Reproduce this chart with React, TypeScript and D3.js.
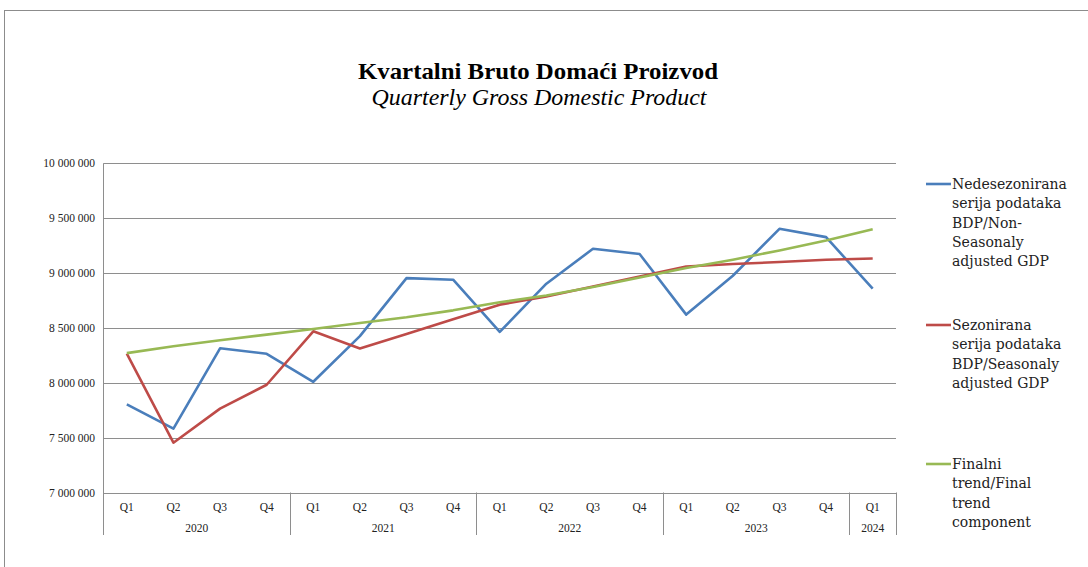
import { useEffect, useRef } from 'react';
import * as d3 from 'd3';

// ─── Data ──────────────────────────────────────────────────────────────────
const quarters = ['Q1', 'Q2', 'Q3', 'Q4', 'Q1', 'Q2', 'Q3', 'Q4', 'Q1', 'Q2', 'Q3', 'Q4', 'Q1', 'Q2', 'Q3', 'Q4', 'Q1'];
const years = ['2020', '2021', '2022', '2023', '2024'];
const quartersPerYear = [4, 4, 4, 4, 1];

const nonSeasonal = [7803000, 7582000, 8314000, 8264000, 8009000, 8425000, 8954000, 8939000, 8464000, 8903000, 9221000, 9173000, 8621000, 8975000, 9403000, 9327000, 8857000];
const seasonal = [8266000, 7454000, 7764000, 7982000, 8469000, 8312000, 8445000, 8578000, 8712000, 8786000, 8877000, 8969000, 9060000, 9082000, 9100000, 9121000, 9133000];
const trend = [8270000, 8333000, 8387000, 8439000, 8490000, 8545000, 8597000, 8660000, 8733000, 8796000, 8872000, 8960000, 9045000, 9121000, 9206000, 9297000, 9400000];

const yTicks = [7000000, 7500000, 8000000, 8500000, 9000000, 9500000, 10000000];

const legendItems = [
  { color: '#4a7ebb', lines: ['Nedesezonirana', 'serija podataka', 'BDP/Non-', 'Seasonaly', 'adjusted GDP'], values: nonSeasonal },
  { color: '#be4b48', lines: ['Sezonirana', 'serija podataka', 'BDP/Seasonaly', 'adjusted GDP'], values: seasonal },
  { color: '#98b954', lines: ['Finalni', 'trend/Final', 'trend', 'component'], values: trend },
];

export default function App() {
  const svgRef = useRef<SVGSVGElement | null>(null);

  useEffect(() => {
    if (!svgRef.current) return;
    const W = 1088, H = 567;
    const m = { left: 103.5, right: 896, top: 163.3, bottom: 492.5 };

    const svg = d3.select(svgRef.current);
    svg.selectAll('*').remove();
    svg.attr('width', W).attr('height', H);

    // marco exterior
    svg.append('rect')
      .attr('x', 4.5).attr('y', 10.5)
      .attr('width', 1100).attr('height', 600)
      .attr('fill', '#fff')
      .attr('stroke', '#8c8c8c')
      .attr('stroke-width', 1);

    // ── Títulos ──────────────────────────────────────────────────────────────
    svg.append('text')
      .attr('x', 538).attr('y', 79)
      .attr('text-anchor', 'middle')
      .attr('font-family', '"Liberation Serif", serif')
      .attr('font-weight', 'bold')
      .attr('font-size', 24)
      .attr('textLength', 360)
      .attr('lengthAdjust', 'spacingAndGlyphs')
      .text('Kvartalni Bruto Domaći Proizvod');

    svg.append('text')
      .attr('x', 539).attr('y', 105)
      .attr('text-anchor', 'middle')
      .attr('font-family', '"Liberation Serif", serif')
      .attr('font-style', 'italic')
      .attr('font-size', 23)
      .attr('textLength', 335)
      .attr('lengthAdjust', 'spacingAndGlyphs')
      .text('Quarterly Gross Domestic Product');

    // ── Escalas ──────────────────────────────────────────────────────────────
    const x = d3.scaleBand<number>()
      .domain(d3.range(quarters.length))
      .range([m.left, m.right]);
    const xc = (i: number) => (x(i) ?? 0) + x.bandwidth() / 2;

    const y = d3.scaleLinear()
      .domain([7000000, 10000000])
      .range([m.bottom, m.top]);

    const fmt = (v: number) => d3.format(',')(v).replace(/,/g, ' ');

    // ── Rejilla + eje Y ─────────────────────────────────────────────────────
    const g = svg.append('g');
    g.selectAll('line.grid')
      .data(yTicks)
      .join('line')
      .attr('x1', m.left).attr('x2', m.right)
      .attr('y1', d => Math.round(y(d)) + 0.5)
      .attr('y2', d => Math.round(y(d)) + 0.5)
      .attr('stroke', '#8e8e8e')
      .attr('stroke-width', 1);

    g.selectAll('text.ytick')
      .data(yTicks)
      .join('text')
      .attr('x', 95)
      .attr('y', d => y(d) + 4)
      .attr('text-anchor', 'end')
      .attr('font-family', '"Liberation Serif", serif')
      .attr('font-size', 11.5)
      .attr('fill', '#222')
      .text(d => fmt(d));

    // eje vertical
    g.append('line')
      .attr('x1', m.left).attr('x2', m.left)
      .attr('y1', m.top).attr('y2', 535)
      .attr('stroke', '#8e8e8e');

    // ── Eje X categorías (trimestre / año) ─────────────────────────────────
    g.selectAll('text.q')
      .data(quarters)
      .join('text')
      .attr('x', (_, i) => xc(i))
      .attr('y', 511)
      .attr('text-anchor', 'middle')
      .attr('font-family', '"Liberation Serif", serif')
      .attr('font-size', 11.5)
      .attr('fill', '#222')
      .text(d => d);

    let start = 0;
    const bounds: number[] = [];
    years.forEach((yr, k) => {
      const n = quartersPerYear[k];
      const x0 = x(start) ?? 0;
      const x1 = (x(start + n - 1) ?? 0) + x.bandwidth();
      g.append('text')
        .attr('x', (x0 + x1) / 2)
        .attr('y', 532)
        .attr('text-anchor', 'middle')
        .attr('font-family', '"Liberation Serif", serif')
        .attr('font-size', 11.5)
        .attr('fill', '#222')
        .text(yr);
      bounds.push(x1);
      start += n;
    });

    g.selectAll('line.sep')
      .data(bounds)
      .join('line')
      .attr('x1', d => Math.round(d) + 0.5).attr('x2', d => Math.round(d) + 0.5)
      .attr('y1', m.bottom).attr('y2', 535)
      .attr('stroke', '#8e8e8e');

    // ── Series ──────────────────────────────────────────────────────────────
    const line = d3.line<number>()
      .x((_, i) => xc(i))
      .y(d => y(d));

    legendItems.forEach(item => {
      svg.append('path')
        .datum(item.values)
        .attr('fill', 'none')
        .attr('stroke', item.color)
        .attr('stroke-width', 2.6)
        .attr('stroke-linejoin', 'round')
        .attr('d', line);
    });

    // ── Leyenda ─────────────────────────────────────────────────────────────
    const legendY = [184, 325, 464];
    legendItems.forEach((item, k) => {
      const ly = legendY[k];
      svg.append('line')
        .attr('x1', 926).attr('x2', 951)
        .attr('y1', ly).attr('y2', ly)
        .attr('stroke', item.color)
        .attr('stroke-width', 2.6);
      const t = svg.append('text')
        .attr('font-family', '"DejaVu Serif", serif')
        .attr('font-size', 14)
        .attr('fill', '#222');
      item.lines.forEach((s, j) => {
        t.append('tspan')
          .attr('x', 952)
          .attr('y', ly + 5 + j * 19.3)
          .text(s);
      });
    });
  }, []);

  return (
    <div style={{ position: 'absolute', left: 0, top: 0, width: 1088, height: 567, background: '#fff', overflow: 'hidden' }}>
      <svg ref={svgRef} style={{ display: 'block' }} />
    </div>
  );
}
